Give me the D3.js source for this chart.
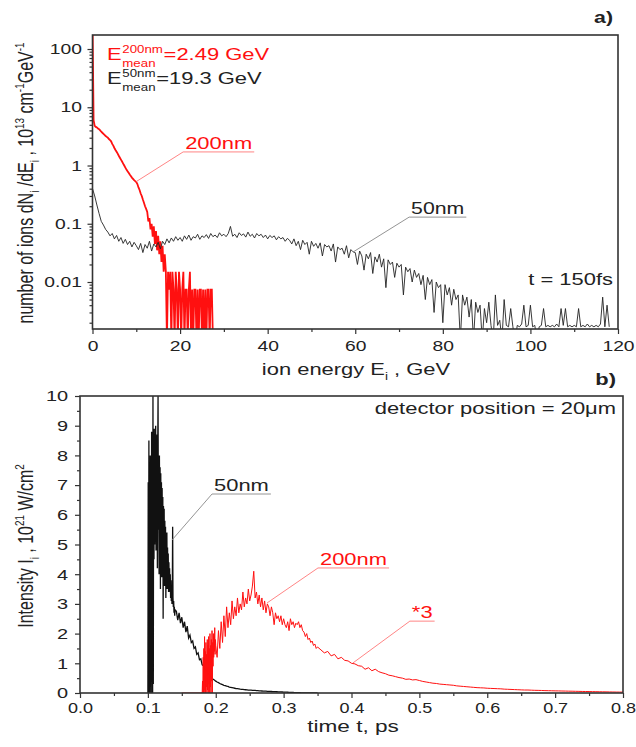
<!DOCTYPE html>
<html>
<head>
<meta charset="utf-8">
<script src="https://cdn.jsdelivr.net/npm/d3@7"></script>
<style>
  body { margin: 0; background: #fff; }
  text { font-family: "Liberation Sans", Arial, sans-serif; }
</style>
</head>
<body>
<div id="chart"></div>
<script>
// ---------- data: panel a) ion spectra, t = 150fs ----------
const energyDomain = [0, 120]
const ionDomain = [0.00156, 174]
const energyTicks = [0, 20, 40, 60, 80, 100, 120]
const energyMinorTicks = [10, 30, 50, 70, 90, 110]
const ionTicks = [0.01, 0.1, 1, 10, 100]

// 50nm target, every 0.5 GeV from 0 GeV
const ions50Step = 0.5
const ions50nm = [
  0.40, 0.30, 0.21, 0.15, 0.11, 0.095, 0.08, 0.072, 0.062, 0.068,
  0.055, 0.063, 0.05, 0.058, 0.046, 0.054, 0.044, 0.05, 0.04, 0.048,
  0.042, 0.036, 0.046, 0.032, 0.044, 0.038, 0.05, 0.034, 0.045, 0.04,
  0.048, 0.037, 0.05, 0.044, 0.055, 0.047, 0.057, 0.05, 0.06, 0.052,
  0.058, 0.05, 0.062, 0.054, 0.064, 0.052, 0.06, 0.057, 0.066, 0.054,
  0.062, 0.058, 0.065, 0.056, 0.068, 0.06, 0.064, 0.058, 0.07, 0.062,
  0.066, 0.06, 0.068, 0.09, 0.061, 0.066, 0.058, 0.07, 0.063, 0.067,
  0.059, 0.072, 0.061, 0.066, 0.057, 0.068, 0.062, 0.066, 0.058, 0.064,
  0.055, 0.063, 0.058, 0.062, 0.053, 0.06, 0.055, 0.058, 0.05, 0.056,
  0.052, 0.045, 0.055, 0.042, 0.05, 0.036, 0.052, 0.044, 0.048, 0.03,
  0.05, 0.041, 0.046, 0.038, 0.047, 0.028, 0.044, 0.04, 0.042, 0.034,
  0.045, 0.022, 0.04, 0.036, 0.038, 0.03, 0.042, 0.026, 0.036, 0.033,
  0.032, 0.02, 0.034, 0.028, 0.016, 0.03, 0.025, 0.032, 0.014, 0.027,
  0.022, 0.03, 0.018, 0.025, 0.008, 0.024, 0.02, 0.022, 0.012, 0.021,
  0.018, 0.02, 0.006, 0.018, 0.015, 0.017, 0.01, 0.016, 0.012, 0.014,
  0.009, 0.013, 0.005, 0.012, 0.009, 0.011, 0.003, 0.01, 0.008, 0.009,
  0.002, 0.009, 0.006, 0.008, 0.004, 0.0075, 0.005, 0.006, 0.001, 0.006,
  0.004, 0.0055, 0.0025, 0.005, 0.001, 0.0045, 0.003, 0.004, 0.001, 0.0035,
  0.002, 0.0045, 0.0018, 0.001, 0.006, 0.0018, 0.0022, 0.001, 0.005, 0.0018,
  0.0017, 0.0035, 0.0017, 0.001, 0.0018, 0.0017, 0.0019, 0.004, 0.0017, 0.0018,
  0.004, 0.0017, 0.0018, 0.001, 0.0017, 0.0018, 0.0035, 0.0017, 0.0018, 0.0017,
  0.0018, 0.0017, 0.0019, 0.0017, 0.0035, 0.0018, 0.0035, 0.0017, 0.0018, 0.0017,
  0.0018, 0.0017, 0.0035, 0.0017, 0.0018, 0.0017, 0.0019, 0.0017, 0.0018, 0.0017,
  0.0018, 0.0017, 0.0019, 0.0055, 0.0017, 0.004, 0.0017
]

// 200nm target, every 0.25 GeV from 0 GeV (0.001 = empty bin)
const ions200Step = 0.25
const ions200nm = [
  300, 6, 4.8, 4.6, 4.5, 4.3, 4.2, 4.0, 3.8, 3.65,
  3.5, 3.35, 3.2, 3.1, 3.0, 2.85, 2.74, 2.6, 2.35, 2.2,
  2.0, 1.85, 1.72, 1.6, 1.47, 1.36, 1.26, 1.17, 1.08, 1.0,
  0.92, 0.85, 0.8, 0.75, 0.7, 0.66, 0.62, 0.59, 0.56, 0.54,
  0.52, 0.48, 0.42, 0.38, 0.33, 0.3, 0.26, 0.23, 0.2, 0.18,
  0.16, 0.11, 0.125, 0.08, 0.1, 0.06, 0.09, 0.045, 0.075, 0.035,
  0.062, 0.03, 0.05, 0.022, 0.042, 0.015, 0.03, 0.015, 0.001, 0.015,
  0.0074, 0.015, 0.001, 0.015, 0.0074, 0.001, 0.015, 0.0074, 0.001, 0.015,
  0.0074, 0.001, 0.0074, 0.015, 0.001, 0.0074, 0.0074, 0.001, 0.0074, 0.015,
  0.001, 0.0074, 0.001, 0.0074, 0.0074, 0.001, 0.0074, 0.001, 0.0074, 0.0074,
  0.001, 0.0074, 0.001, 0.0074, 0.001, 0.0074, 0.0074, 0.001, 0.0074, 0.0074,
  0.001
]

// ---------- data: panel b) intensity at detector, 20 um ----------
const timeDomain = [0, 0.8]
const intensityDomain = [0, 10]
const timeTicks = [0, 0.1, 0.2, 0.3, 0.4, 0.5, 0.6, 0.7, 0.8]
const timeMinorTicks = [0.05, 0.15, 0.25, 0.35, 0.45, 0.55, 0.65, 0.75]
const intensityTicks = [0, 1, 2, 3, 4, 5, 6, 7, 8, 9, 10]
const intensityMinorTicks = [0.5, 1.5, 2.5, 3.5, 4.5, 5.5, 6.5, 7.5, 8.5, 9.5]

// 50nm pulse: fine part from 0.100 ps every 0.0005 ps
const pulse50FineStart = 0.1
const pulse50FineStep = 0.0005
const pulse50Fine = [
  0, 7.1, 0, 8.5, 0, 6.5, 0, 8.0, 0.2, 7.6,
  0, 8.8, 0.5, 8.2, 0, 10, 0.3, 8.9, 4.5, 8.6,
  5.0, 8.9, 5.5, 9.0, 4.8, 8.4, 6.0, 8.7, 4.2, 8.1,
  10, 5.5, 7.9, 4.0, 8.0, 5.2, 7.6, 3.5, 7.4, 4.8,
  7.1, 3.9, 6.9, 4.6, 6.6, 2.5, 6.3, 4.2, 6.2, 3.6,
  5.8, 4.0, 5.6, 3.2, 5.3, 4.1, 5.4, 3.5, 4.9, 3.7,
  4.7, 3.4, 4.4, 3.6, 4.2, 3.4, 4.0, 3.2, 3.8, 3.1,
  3.6, 3.0, 3.4, 5.6, 3.2, 2.9, 3.1, 2.7, 2.9, 2.6,
  2.8
]
// 50nm pulse: tail from 0.142 ps every 0.002 ps
const pulse50TailStart = 0.142
const pulse50TailStep = 0.002
const pulse50Tail = [
  2.75, 2.45, 2.7, 2.35, 2.55, 2.2, 2.4, 2.05, 2.25, 1.85,
  1.95, 1.7, 1.75, 1.5, 1.55, 1.3, 1.35, 1.12, 1.15, 0.95,
  0.92, 0.8, 0.77, 0.66, 0.64, 0.55, 0.54, 0.46, 0.44, 0.4,
  0.37, 0.35, 0.32, 0.3, 0.28, 0.26, 0.25, 0.23, 0.22, 0.2,
  0.19, 0.18, 0.17, 0.16, 0.15, 0.145, 0.14, 0.13, 0.125, 0.12,
  0.115, 0.11, 0.105, 0.1, 0.1, 0.095, 0.09, 0.088, 0.085, 0.08,
  0.078, 0.075, 0.07, 0.068, 0.065, 0.062, 0.06, 0.057, 0.055, 0.052,
  0.05, 0.048, 0.046, 0.044, 0.042, 0.04, 0.038, 0.036, 0.034, 0.032,
  0.03, 0.028, 0.026, 0.024, 0.022, 0.02, 0.018, 0.016, 0.014, 0.012,
  0.01, 0.008, 0.006, 0.005, 0.004, 0.003, 0.002, 0.001, 0, 0,
  0, 0, 0, 0, 0
]

// 200nm pulse (*3): zero from 0.15 ps, onset every 0.0005 ps from 0.18 ps
const pulse200ZeroStart = 0.15
const pulse200FineStart = 0.18
const pulse200FineStep = 0.0005
const pulse200Fine = [
  0, 0.4, 0, 1.2, 0, 1.5, 0, 1.9, 0.1, 1.4,
  0, 1.7, 0.2, 1.3, 0, 1.8, 0.1, 1.6, 0, 1.9,
  0.3, 1.5, 0, 2.0, 0.2, 1.6, 0, 1.8, 0.4, 2.1,
  0, 1.7, 0.9, 2.0, 1.2, 1.9, 1.4, 2.2, 1.3, 1.8,
  1.6
]
// 200nm pulse: main hump from 0.202 ps every 0.002 ps
const pulse200MidStart = 0.202
const pulse200MidStep = 0.002
const pulse200Mid = [
  1.2, 2.1, 1.5, 2.4, 1.7, 2.6, 1.9, 2.9, 2.2, 2.7,
  2.3, 3.1, 2.5, 2.9, 2.6, 3.2, 2.7, 3.0, 2.8, 3.4,
  2.9, 3.2, 3.0, 3.5, 3.1, 3.3, 3.6, 4.1, 3.2, 3.4,
  3.0, 3.3, 2.9, 3.2, 2.8, 3.1, 2.7, 3.0, 2.9, 2.6,
  2.9, 2.7, 2.3, 2.7, 2.5, 2.6, 2.4, 2.6, 2.3, 2.5,
  2.3, 2.2, 2.4, 2.1, 2.5, 2.3, 2.4, 2.2, 2.35, 2.3,
  2.4, 2.2, 2.3, 2.1, 2.05, 1.9, 2.0, 1.8, 1.85, 1.7,
  1.75, 1.6, 1.65, 1.5, 1.55
]
// 200nm pulse: tail from 0.355 ps every 0.005 ps
const pulse200TailStart = 0.355
const pulse200TailStep = 0.005
const pulse200Tail = [
  1.45, 1.35, 1.4, 1.25, 1.3, 1.15, 1.2, 1.1, 1.08, 1.0,
  0.98, 0.92, 0.9, 0.8, 0.85, 0.75, 0.8, 0.72, 0.68, 0.65,
  0.6, 0.58, 0.55, 0.52, 0.5, 0.46, 0.47, 0.44, 0.45, 0.42,
  0.39, 0.37, 0.35, 0.33, 0.32, 0.3, 0.29, 0.28, 0.27, 0.26,
  0.24, 0.23, 0.22, 0.21, 0.2, 0.19, 0.18, 0.175, 0.17, 0.16,
  0.155, 0.15, 0.145, 0.14, 0.13, 0.125, 0.12, 0.115, 0.11, 0.105,
  0.1, 0.1, 0.095, 0.09, 0.088, 0.085, 0.08, 0.078, 0.075, 0.072,
  0.07, 0.067, 0.065, 0.062, 0.06, 0.057, 0.055, 0.052, 0.05, 0.048,
  0.046, 0.044, 0.042, 0.04, 0.038, 0.036, 0.034, 0.032, 0.031, 0.03
]

// ---------- drawing ----------
const width = 636
const height = 747
const SX = 1.33 // the source figure is stretched sideways, text too
const RED = '#ff1010'
const INK = '#222'
const FRAME = '#333'

const svg = d3.select('#chart')
  .append('svg')
  .attr('width', width)
  .attr('height', height)

// plot boxes
const boxA = { left: 92.5, right: 618, top: 35, bottom: 329 }
const boxB = { left: 80, right: 623, top: 396, bottom: 693 }

const xA = d3.scaleLinear().domain(energyDomain).range([boxA.left, boxA.right])
const yA = d3.scaleLog().domain(ionDomain).range([boxA.bottom, boxA.top])
const xB = d3.scaleLinear().domain(timeDomain).range([boxB.left, boxB.right])
const yB = d3.scaleLinear().domain(intensityDomain).range([boxB.bottom, boxB.top])

// series as points
const toPoints = (values, start, step) => values.map((v, i) => ({ x: start + i * step, v }))
const a50 = toPoints(ions50nm, 0, ions50Step)
const a200 = toPoints(ions200nm, 0, ions200Step)
const b50 = toPoints(pulse50Fine, pulse50FineStart, pulse50FineStep)
  .concat(toPoints(pulse50Tail, pulse50TailStart, pulse50TailStep))
const b200 = [{ x: pulse200ZeroStart, v: 0 }]
  .concat(toPoints(pulse200Fine, pulse200FineStart, pulse200FineStep))
  .concat(toPoints(pulse200Mid, pulse200MidStart, pulse200MidStep))
  .concat(toPoints(pulse200Tail, pulse200TailStart, pulse200TailStep))

// log minor ticks inside the domain
const logMinor = []
for (let k = -3; k <= 2; k++) {
  for (let m = 2; m <= 9; m++) {
    const v = m * Math.pow(10, k)
    if (v >= ionDomain[0] && v <= ionDomain[1]) logMinor.push(v)
  }
}

// clip paths
const defs = svg.append('defs')
;[['clipA', boxA], ['clipB', boxB]].forEach(([id, b]) => {
  defs.append('clipPath').attr('id', id)
    .append('rect')
    .attr('x', b.left).attr('y', b.top)
    .attr('width', b.right - b.left).attr('height', b.bottom - b.top)
})

// axes: major + minor ticks, outward, labels stretched
function drawAxes(x, y, box, o) {
  const g = svg.append('g').style('color', FRAME)

  g.append('g')
    .attr('transform', `translate(0,${box.bottom})`)
    .call(d3.axisBottom(x).tickValues(o.xMinor).tickSize(3).tickFormat(''))
    .call(s => s.select('.domain').remove())

  g.append('g')
    .attr('transform', `translate(${box.left},0)`)
    .call(d3.axisLeft(y).tickValues(o.yMinor).tickSize(3).tickFormat(''))
    .call(s => s.select('.domain').remove())

  g.append('g')
    .attr('transform', `translate(0,${box.bottom})`)
    .call(d3.axisBottom(x).tickValues(o.xTicks).tickSize(5).tickPadding(o.xPad).tickFormat(o.xFormat))
    .call(s => s.select('.domain').remove())
    .call(s => s.selectAll('text')
      .attr('transform', `scale(${o.xStretch || SX},1)`)
      .attr('font-size', o.fontSize)
      .attr('font-family', '"Liberation Sans", Arial, sans-serif')
      .attr('fill', INK))

  g.append('g')
    .attr('transform', `translate(${box.left},0)`)
    .call(d3.axisLeft(y).tickValues(o.yTicks).tickSize(5).tickPadding(o.yPad).tickFormat(o.yFormat))
    .call(s => s.select('.domain').remove())
    .call(s => s.selectAll('text')
      .attr('transform', `scale(${SX},1)`)
      .attr('font-size', o.fontSize)
      .attr('font-family', '"Liberation Sans", Arial, sans-serif')
      .attr('fill', INK))

  g.selectAll('.tick line').attr('stroke-width', 1.2)
}

function drawFrame(box) {
  svg.append('rect')
    .attr('x', box.left).attr('y', box.top)
    .attr('width', box.right - box.left).attr('height', box.bottom - box.top)
    .attr('fill', 'none')
    .attr('stroke', FRAME)
    .attr('stroke-width', 1.6)
}

// text with sub/superscripts, stretched sideways
function richText(x, y, parts, o) {
  const rot = o.rotate ? ' rotate(-90)' : ''
  const t = svg.append('text')
    .attr('transform', `translate(${x},${y}) scale(${SX},1)${rot}`)
    .attr('text-anchor', o.anchor || 'start')
    .attr('font-size', o.size)
    .attr('font-weight', o.weight || 'normal')
    .attr('fill', o.color || INK)
  let shift = 0
  parts.forEach(([s, k]) => {
    const target = k === 'sup' ? -0.42 * o.size : k === 'sub' ? 0.3 * o.size : 0
    t.append('tspan')
      .attr('dy', target - shift)
      .attr('font-size', k ? o.size * 0.62 : o.size)
      .text(s)
    shift = target
  })
  return t
}

// E with stacked super- and subscript
function meanLabel(x, y, sup, rest, color) {
  const size = 16.5
  const g = svg.append('g')
    .attr('transform', `translate(${x},${y}) scale(${SX},1)`)
    .attr('fill', color)
  const e = g.append('text').attr('font-size', size).text('E')
  const w = e.node().getComputedTextLength() + 0.5
  const s1 = g.append('text').attr('x', w).attr('y', -7.5).attr('font-size', 10).text(sup)
  const s2 = g.append('text').attr('x', w).attr('y', 6.5).attr('font-size', 10).text('mean')
  const w2 = Math.max(s1.node().getComputedTextLength(), s2.node().getComputedTextLength())
  g.append('text').attr('x', w + w2 + 0.5).attr('font-size', size).text(rest)
}

// annotation: leader from a data point to an elbow, then underline under the label
function callout(x, y, p, elbow, label, color, lineColor, size) {
  const px = x(p[0]), py = y(p[1])
  const ex = x(elbow[0]), ey = y(elbow[1])
  const t = richText(ex + 2, ey - 3, [[label]], { size, color })
  const tw = t.node().getComputedTextLength() * SX
  svg.append('path')
    .attr('d', d3.line()([[px, py], [ex, ey], [ex + tw + 4, ey]]))
    .attr('fill', 'none')
    .attr('stroke', lineColor)
    .attr('stroke-width', 0.9)
}

// ----- panel a) -----
drawAxes(xA, yA, boxA, {
  xTicks: energyTicks, xMinor: energyMinorTicks, xFormat: d3.format('d'), xPad: 6.5,
  yTicks: ionTicks, yMinor: logMinor, yFormat: d => String(d), yPad: 3,
  fontSize: 14.5
})

const lineA = d3.line().x(d => xA(d.x)).y(d => yA(d.v))

svg.append('path')
  .datum(a200)
  .attr('clip-path', 'url(#clipA)')
  .attr('fill', 'none')
  .attr('stroke', RED)
  .attr('stroke-width', 1.8)
  .attr('d', lineA)

svg.append('path')
  .datum(a50)
  .attr('clip-path', 'url(#clipA)')
  .attr('fill', 'none')
  .attr('stroke', INK)
  .attr('stroke-width', 0.9)
  .attr('d', lineA)

drawFrame(boxA)

meanLabel(107, 60, '200nm', '=2.49 GeV', RED)
meanLabel(107, 84, '50nm', '=19.3 GeV', INK)

callout(xA, yA, [10, 0.53], [20.7, 1.71], '200nm', RED, '#f77', 16.5)
callout(xA, yA, [59.5, 0.0327], [72.3, 0.13], '50nm', INK, '#888', 16)

richText(613, 285, [['t = 150fs']], { size: 16.5, anchor: 'end' })
richText(613, 23, [['a)']], { size: 16, anchor: 'end', weight: 'bold' })

richText(356, 375, [['ion energy E'], ['i', 'sub'], [' , GeV']], { size: 16.5, anchor: 'middle' })
richText(33, 183, [
  ['number of ions dN'], ['i', 'sub'], [' /dE'], ['i', 'sub'], [' , 10'], ['13', 'sup'],
  [' cm'], ['-1', 'sup'], ['GeV'], ['-1', 'sup']
], { size: 16, anchor: 'middle', rotate: true })

// ----- panel b) -----
drawAxes(xB, yB, boxB, {
  xTicks: timeTicks, xMinor: timeMinorTicks, xFormat: d3.format('.1f'), xPad: 4,
  yTicks: intensityTicks, yMinor: intensityMinorTicks, yFormat: d3.format('d'), yPad: 4,
  fontSize: 15, xStretch: 1.2
})

const lineB = d3.line().x(d => xB(d.x)).y(d => yB(d.v))

svg.append('path')
  .datum(b50)
  .attr('clip-path', 'url(#clipB)')
  .attr('fill', 'none')
  .attr('stroke', '#111')
  .attr('stroke-width', 1.3)
  .attr('d', lineB)

svg.append('path')
  .datum(b200)
  .attr('clip-path', 'url(#clipB)')
  .attr('fill', 'none')
  .attr('stroke', RED)
  .attr('stroke-width', 1)
  .attr('d', lineB)

drawFrame(boxB)

callout(xB, yB, [0.1355, 5.15], [0.1945, 6.7], '50nm', INK, '#888', 16.5)
callout(xB, yB, [0.2755, 3.03], [0.3506, 4.21], '200nm', RED, '#f77', 16.5)
callout(xB, yB, [0.402, 1.01], [0.486, 2.42], '*3', RED, '#f77', 16.5)

richText(616, 414, [['detector position = 20\u03bcm']], { size: 16.5, anchor: 'end' })
richText(616, 385, [['b)']], { size: 16.5, anchor: 'end', weight: 'bold' })

richText(353, 732, [['time t, ps']], { size: 17, anchor: 'middle' })
richText(33, 546, [
  ['Intensity I'], ['i', 'sub'], [' , 10'], ['21', 'sup'], [' W/cm'], ['2', 'sup']
], { size: 16, anchor: 'middle', rotate: true })
</script>
</body>
</html>
